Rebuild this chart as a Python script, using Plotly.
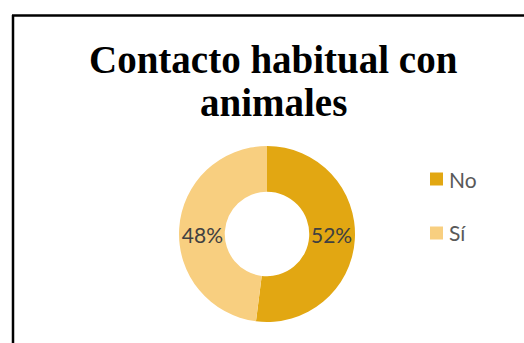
import plotly.graph_objects as go

# Survey answers and their shares (percent)
categories = ["No", "Sí"]
shares = [52, 48]
slice_colors = ["#E2A712", "#F8CF80"]

title_lines = ["Contacto habitual con", "animales"]

W, H = 524, 343


def px(x):
    return x / W


def py(y):
    return 1 - y / H


fig = go.Figure()

fig.add_trace(go.Pie(
    labels=categories,
    values=shares,
    hole=0.48,
    sort=False,
    direction="clockwise",
    rotation=0,
    marker=dict(colors=slice_colors, line=dict(width=0)),
    texttemplate="%{percent:.0%}",
    textposition="inside",
    insidetextorientation="horizontal",
    textfont=dict(family="Lato", size=21, color="#404040"),
    showlegend=False,
    hoverinfo="label+percent",
    domain=dict(x=[px(179), px(355)], y=[py(322), py(146)]),
))

shapes = [
    # chart frame (left and top edges visible)
    dict(type="line", xref="paper", yref="paper",
         x0=px(13), y0=py(15), x1=px(13), y1=py(343), line=dict(color="black", width=2.5)),
    dict(type="line", xref="paper", yref="paper",
         x0=px(12), y0=py(15.5), x1=px(524), y1=py(15.5), line=dict(color="black", width=2.5)),
]

annotations = []
# two-line bold title, each line placed on its own
for line, cy in zip(title_lines, [59, 102]):
    annotations.append(dict(text="<b>" + line + "</b>", xref="paper", yref="paper",
                            x=px(273), y=py(cy), xanchor="center", yanchor="middle",
                            showarrow=False,
                            font=dict(family="Liberation Serif", size=39, color="#000000")))

# legend drawn as swatch + label, one row per category
legend_rows_y = [179, 233]
for name, color, ly in zip(categories, slice_colors, legend_rows_y):
    shapes.append(dict(type="rect", xref="paper", yref="paper",
                       x0=px(430), x1=px(443), y0=py(ly + 6.5), y1=py(ly - 6.5),
                       fillcolor=color, line=dict(width=0)))
    annotations.append(dict(text=name, xref="paper", yref="paper", x=px(447), y=py(ly),
                            xanchor="left", yanchor="middle", showarrow=False,
                            font=dict(family="Lato", size=21, color="#595959")))

fig.update_layout(
    width=W, height=H,
    margin=dict(l=0, r=0, t=0, b=0),
    paper_bgcolor="white",
    plot_bgcolor="white",
    shapes=shapes,
    annotations=annotations,
)

fig.write_html("out.html")
